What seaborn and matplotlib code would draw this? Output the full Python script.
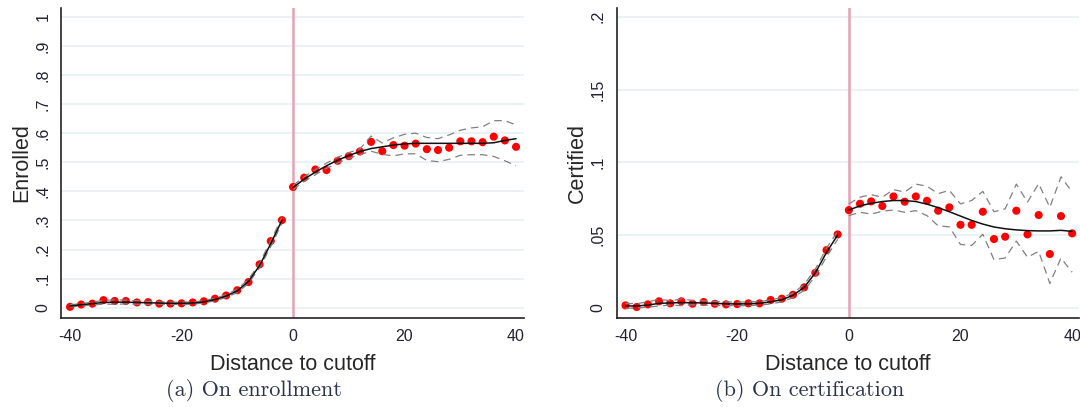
import matplotlib
matplotlib.use('Agg')
import matplotlib.pyplot as plt
import seaborn as sns
import pandas as pd

# bins left and right of the cutoff
x_left = [-40, -38, -36, -34, -32, -30, -28, -26, -24, -22, -20, -18, -16, -14, -12, -10, -8, -6, -4, -2]
x_right = [0, 2, 4, 6, 8, 10, 12, 14, 16, 18, 20, 22, 24, 26, 28, 30, 32, 34, 36, 38, 40]

# (a) enrollment
enr_pts_l = [0.003, 0.011, 0.014, 0.026, 0.023, 0.023, 0.018, 0.019, 0.014, 0.014,
             0.015, 0.018, 0.022, 0.031, 0.042, 0.060, 0.088, 0.149, 0.229, 0.301]
enr_pts_r = [0.415, 0.447, 0.475, 0.473, 0.505, 0.521, 0.537, 0.570, 0.538, 0.559, 0.557,
             0.564, 0.545, 0.542, 0.550, 0.572, 0.572, 0.569, 0.588, 0.575, 0.553]
enr_fit_l = [0.006, 0.010, 0.014, 0.018, 0.019, 0.019, 0.018, 0.017, 0.016, 0.015,
             0.015, 0.016, 0.020, 0.028, 0.040, 0.058, 0.090, 0.145, 0.220, 0.300]
enr_hi_l = [0.010, 0.014, 0.019, 0.025, 0.027, 0.026, 0.024, 0.022, 0.020, 0.019,
            0.019, 0.020, 0.024, 0.032, 0.045, 0.064, 0.097, 0.153, 0.230, 0.310]
enr_lo_l = [0.002, 0.006, 0.009, 0.012, 0.012, 0.013, 0.012, 0.012, 0.012, 0.011,
            0.011, 0.012, 0.016, 0.024, 0.035, 0.052, 0.083, 0.137, 0.210, 0.290]
enr_fit_r = [0.413, 0.442, 0.466, 0.488, 0.507, 0.523, 0.537, 0.547, 0.553, 0.559, 0.563,
             0.565, 0.565, 0.565, 0.565, 0.565, 0.565, 0.565, 0.567, 0.575, 0.581]
enr_hi_r = [0.420, 0.450, 0.475, 0.497, 0.517, 0.533, 0.546, 0.590, 0.566, 0.584, 0.596,
            0.600, 0.585, 0.581, 0.594, 0.610, 0.618, 0.622, 0.643, 0.643, 0.628]
enr_lo_r = [0.406, 0.434, 0.457, 0.479, 0.497, 0.513, 0.526, 0.538, 0.527, 0.522, 0.529,
            0.529, 0.506, 0.502, 0.510, 0.524, 0.526, 0.526, 0.520, 0.505, 0.488]

# (b) certification
cer_pts_l = [0.0016, 0.0005, 0.0023, 0.0044, 0.0030, 0.0044, 0.0027, 0.0039, 0.0027, 0.0023,
             0.0025, 0.0030, 0.0030, 0.0053, 0.0062, 0.0089, 0.0140, 0.0240, 0.0396, 0.0504]
cer_pts_r = [0.0671, 0.0715, 0.0731, 0.0699, 0.0765, 0.0729, 0.0765, 0.0735, 0.0667, 0.0690, 0.0570,
             0.0570, 0.0660, 0.0472, 0.0488, 0.0667, 0.0504, 0.0637, 0.0369, 0.0630, 0.0511]
cer_fit_l = [0.0012, 0.0012, 0.0018, 0.0030, 0.0033, 0.0035, 0.0034, 0.0033, 0.0030, 0.0027,
             0.0026, 0.0027, 0.0030, 0.0040, 0.0055, 0.0085, 0.0140, 0.0240, 0.0380, 0.0500]
cer_hi_l = [0.0030, 0.0028, 0.0040, 0.0058, 0.0048, 0.0060, 0.0050, 0.0048, 0.0044, 0.0040,
            0.0038, 0.0040, 0.0042, 0.0054, 0.0070, 0.0100, 0.0160, 0.0265, 0.0410, 0.0525]
cer_lo_l = [-0.0004, -0.0002, 0.0004, 0.0012, 0.0018, 0.0014, 0.0020, 0.0018, 0.0016, 0.0014,
            0.0014, 0.0015, 0.0018, 0.0026, 0.0040, 0.0070, 0.0120, 0.0215, 0.0350, 0.0470]
cer_fit_r = [0.0672, 0.0700, 0.0718, 0.0730, 0.0737, 0.0737, 0.0730, 0.0712, 0.0688, 0.0660, 0.0630,
             0.0600, 0.0575, 0.0555, 0.0543, 0.0535, 0.0530, 0.0528, 0.0528, 0.0532, 0.0525]
cer_hi_r = [0.0714, 0.0760, 0.0777, 0.0760, 0.0812, 0.0795, 0.0850, 0.0835, 0.0784, 0.0807, 0.0714,
            0.0737, 0.0800, 0.0660, 0.0680, 0.0850, 0.0726, 0.0853, 0.0690, 0.0900, 0.0795]
cer_lo_r = [0.0633, 0.0656, 0.0644, 0.0663, 0.0672, 0.0656, 0.0667, 0.0633, 0.0563, 0.0556, 0.0435,
            0.0428, 0.0505, 0.0330, 0.0342, 0.0458, 0.0347, 0.0388, 0.0167, 0.0342, 0.0244]

x_ticks = [-40, -20, 0, 20, 40]
enr_yticks = [0, .1, .2, .3, .4, .5, .6, .7, .8, .9, 1]
enr_ylabels = ['0', '.1', '.2', '.3', '.4', '.5', '.6', '.7', '.8', '.9', '1']
cer_yticks = [0, .05, .1, .15, .2]
cer_ylabels = ['0', '.05', '.1', '.15', '.2']

sns.set_style('white')
plt.rcParams['font.family'] = ['Liberation Sans', 'DejaVu Sans']


def draw_side(ax, xs, pts, fit, hi, lo):
    df = pd.DataFrame({'x': xs, 'pts': pts, 'fit': fit, 'hi': hi, 'lo': lo})
    sns.scatterplot(data=df, x='x', y='pts', ax=ax, color='#ff0000', s=34,
                    edgecolor='none', zorder=3)
    for col in ['hi', 'lo']:
        sns.lineplot(data=df, x='x', y=col, ax=ax, color='#808080', lw=0.9,
                     dashes=(6, 4), zorder=4)
    sns.lineplot(data=df, x='x', y='fit', ax=ax, color='#111111', lw=1.1, zorder=5)


def draw_panel(ax, side_l, side_r, yticks, ylabels, ylim, xlim, ylabel, caption, cap_x):
    draw_side(ax, x_left, *side_l)
    draw_side(ax, x_right, *side_r)
    ax.axvline(0, color='#e8a0b4', lw=1.8, zorder=2)
    for t in yticks:
        ax.axhline(t, color='#e8f0f2', lw=1.2, zorder=0)
    ax.set_xlim(*xlim)
    ax.set_ylim(*ylim)
    ax.set_xticks(x_ticks)
    ax.set_xticklabels([str(t) for t in x_ticks])
    ax.set_yticks(yticks)
    ax.set_yticklabels(ylabels, rotation=90, va='center')
    ax.tick_params(axis='both', direction='out', length=5, width=1.1, colors='#222222',
                   labelsize=11.5, labelcolor='#222233', pad=3)
    sns.despine(ax=ax)
    for s in ['left', 'bottom']:
        ax.spines[s].set_color('#222222')
        ax.spines[s].set_linewidth(1.2)
    ax.set_xlabel('Distance to cutoff', fontsize=15.5, labelpad=7)
    ax.set_ylabel(ylabel, fontsize=15.5, labelpad=2)
    ax.figure.text(cap_x, 0.040, caption, ha='center', va='center',
                   fontsize=16, family=['cmr10', 'DejaVu Serif'], color='#2b3550')


fig = plt.figure(figsize=(10.8, 4.07), dpi=100)
ax1 = fig.add_axes([0.0569, 0.2194, 0.4283, 0.760])
ax2 = fig.add_axes([0.5709, 0.2194, 0.4283, 0.760])

draw_panel(ax1,
           (enr_pts_l, enr_fit_l, enr_hi_l, enr_lo_l),
           (enr_pts_r, enr_fit_r, enr_hi_r, enr_lo_r),
           enr_yticks, enr_ylabels, (-0.0344, 1.0289), (-41.54, 41.43),
           'Enrolled', '(a) On enrollment', 0.235)
draw_panel(ax2,
           (cer_pts_l, cer_fit_l, cer_hi_l, cer_lo_l),
           (cer_pts_r, cer_fit_r, cer_hi_r, cer_lo_r),
           cer_yticks, cer_ylabels, (-0.00687, 0.2058), (-41.6, 41.25),
           'Certified', '(b) On certification', 0.750)

fig.savefig('out.png', dpi=100)
